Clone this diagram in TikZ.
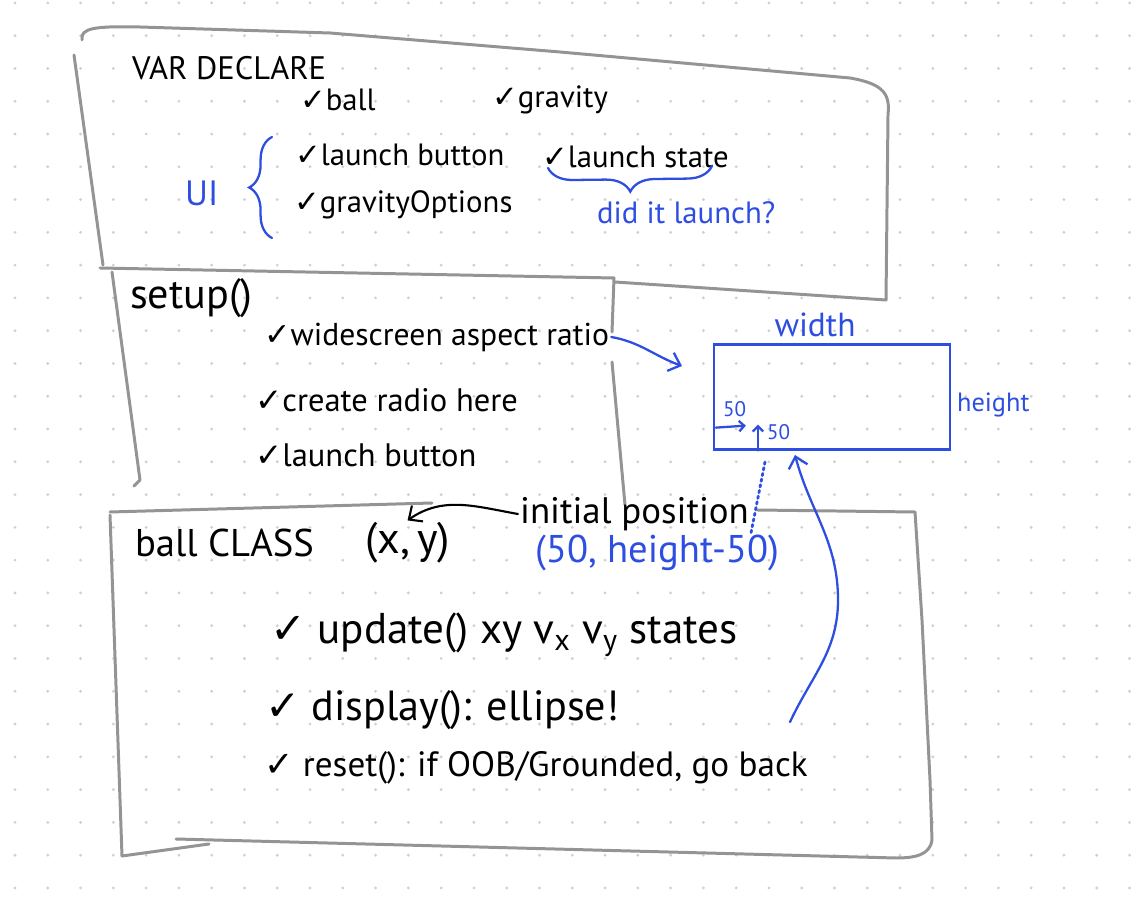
\documentclass[tikz,border=0pt]{standalone}
\usepackage{fontspec}
\setmainfont{PT Sans}
\newfontfamily\tickfont{DejaVu Sans}
\usetikzlibrary{arrows.meta,decorations.pathreplacing,calc}
\definecolor{pencil}{RGB}{148,148,148}
\definecolor{inkblue}{RGB}{45,78,225}
\definecolor{dotgray}{RGB}{208,208,208}
\newcommand{\tck}{{\tickfont ✓}}

\tikzset{
  frame/.style={draw=pencil, line width=1.7pt, line cap=round, line join=round},
  pen/.style={draw=black, line width=1.2pt, line cap=round},
  ink/.style={draw=inkblue, line width=1.3pt, line cap=round},
  note/.style={anchor=west, inner sep=1pt, font=\fontsize{17.5}{21}\selectfont},
  bignote/.style={note, font=\fontsize{21}{25}\selectfont},
  bluenote/.style={note, text=inkblue},
  barb/.style={-{Straight Barb[length=6pt,width=11pt]}},
}

\begin{document}
\begin{tikzpicture}[x=0.02cm, y=-0.02cm]

\useasboundingbox (0,0) rectangle (1146,918);

% Dot grid of the notebook page
\foreach \i in {0,...,34}
  \foreach \j in {0,...,27}
    \fill[dotgray] (15+32.78*\i, 2.9+32.78*\j) circle (0.9pt);

% VAR DECLARE box
\draw[frame] (82,40) .. controls (80,28) and (95,26) .. (140,27) -- (330,33)
            -- (560,52) -- (850,78) .. controls (885,84) and (890,95) .. (888,115)
            -- (886,300) -- (615,282);
\draw[frame] (74,55) -- (103,265);

% setup box
\draw[frame] (100,268) -- (614,278) -- (612,332);
\draw[frame] (612,362) -- (625,505);
\draw[frame] (112,272) -- (140,480) -- (134,486);

% ball CLASS box
\draw[frame] (110,512) -- (432,503);
\draw[frame] (757,510) -- (915,512) -- (922,620) -- (930,780) -- (932,840)
            .. controls (930,855) and (915,858) .. (896,858) -- (176,839);
\draw[frame] (110,515) -- (122,856) -- (209,844);

% Variables
\node[note, font=\fontsize{18.5}{22}\selectfont] (vardecl) at (130,68) {VAR DECLARE};
\node[note] (ball) at (298,100) {\tck ball};
\node[note] (gravity) at (490,100) {\tck gravity};
\node[note] (button) at (293,155) {\tck launch button};
\node[note] (state) at (540,157) {\tck launch state};
\node[note] (options) at (292,205) {\tck gravityOptions};
\node[bluenote, font=\fontsize{20}{24}\selectfont] (ui) at (183,193) {UI};
\node[bluenote] (launched) at (595,213) {did it launch?};

\draw[ink, decorate, decoration={brace, amplitude=13pt}] (272,238) -- (272,137);
\draw[ink, decorate, decoration={brace, mirror, amplitude=14pt}] (548,168) -- (712,166);

% setup()
\node[note, font=\fontsize{24}{28}\selectfont] (setup) at (128,298) {setup()};
\node[note, font=\fontsize{18}{22}\selectfont] (ratio) at (262,337) {\tck widescreen aspect ratio};
\node[note, font=\fontsize{18.5}{22}\selectfont] (radio) at (253,400) {\tck create radio here};
\node[note, font=\fontsize{18.5}{22}\selectfont] (button2) at (253,455) {\tck launch button};

% Canvas sketch
\node[draw=inkblue, line width=1.3pt, minimum width=4.72cm, minimum height=2.1cm,
      inner sep=0pt] (canvas) at (832,397) {};
\node[bluenote, anchor=center, font=\fontsize{19}{23}\selectfont] (widthlbl) at (815,325) {width};
\node[bluenote, font=\fontsize{15}{18}\selectfont] (heightlbl) at (955,405) {height};
\node[bluenote, font=\fontsize{12}{14}\selectfont] (offx) at (721,409) {50};
\node[bluenote, font=\fontsize{12}{14}\selectfont] (offy) at (765,432) {50};
\coordinate (cornerin) at ($(canvas.south west)+(3,-23)$);
\coordinate (cornerright) at ($(canvas.south west)+(33,-25)$);
\coordinate (floor) at ($(canvas.south west)+(45,0)$);
\coordinate (floorup) at ($(canvas.south west)+(45,-26)$);
\draw[ink, -{Straight Barb[length=3pt,width=6pt]}] (cornerin) -- (cornerright);
\draw[ink, -{Straight Barb[length=3pt,width=6pt]}] (floor) -- (floorup);

% ball CLASS
\node[bignote, font=\fontsize{22}{26}\selectfont] (ballclass) at (133,543) {ball CLASS};
\node[bignote, font=\fontsize{25}{30}\selectfont] (xy) at (363,543) {(x,\,y)};
\node[note, font=\fontsize{21}{25}\selectfont] (initial) at (518,514) {initial position};
\node[bluenote, font=\fontsize{22}{26}\selectfont] (initpos) at (533,553) {(50, height-50)};
\node[bignote, font=\fontsize{24.5}{29}\selectfont] (update) at (268,635) {\tck\ update() xy v\textsubscript{x} v\textsubscript{y} states};
\node[bignote, font=\fontsize{24}{29}\selectfont] (display) at (263,710) {\tck\ display(): ellipse!};
\node[bignote, font=\fontsize{20}{24}\selectfont] (reset) at (262,768) {\tck\ reset(): if OOB/Grounded, go back};

% Connectors
\coordinate (ratiotip) at (682,366);
\coordinate (canvasfoot) at (765,462);
\coordinate (backfoot) at (790,722);
\coordinate (hit) at (795,455);
\draw[ink, barb] (ratio.east) to[out=-10,in=160] (ratiotip);
\draw[pen, barb] (initial.west) to[out=170,in=35] (xy.north);
\draw[ink, dotted, line width=1.6pt] (canvasfoot) -- (initial.south east);
\draw[ink, barb] (backfoot) to[out=65,in=-90] (838,600) to[out=90,in=-75] (hit);

\end{tikzpicture}
\end{document}
